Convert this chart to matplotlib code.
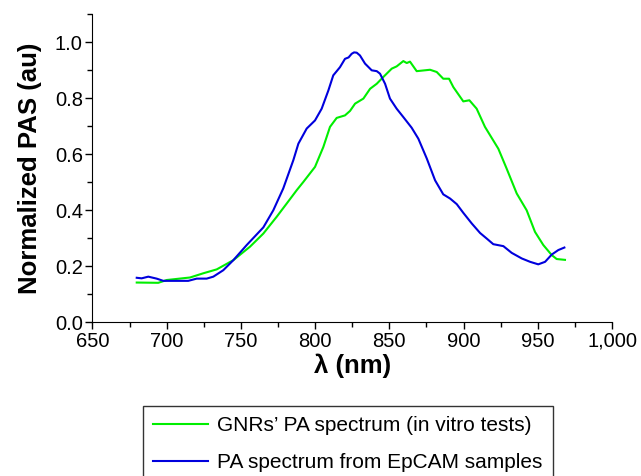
import numpy as np
import matplotlib
matplotlib.use("Agg")
import matplotlib.pyplot as plt
from matplotlib.ticker import MultipleLocator, FuncFormatter

plt.rcParams['font.family'] = ['Liberation Sans', 'DejaVu Sans']

# GNRs' PA spectrum (in vitro tests)
gnr_wl = [679.8, 694.3, 700, 715.7, 724.6, 733.7, 744.9, 756.1, 765.1, 774.1, 780.8,
          787.6, 792, 799.9, 805.5, 810, 814.5, 820.1, 823.5, 826.9, 832.5, 837, 841.5,
          845.9, 851.6, 854.9, 859.4, 861.7, 863.9, 868.4, 877.4, 881.9, 886.3, 890.2,
          893.1, 899.8, 903.9, 908.8, 914.4, 923.4, 929.0, 935.8, 942.5, 948.1, 953.7,
          959.4, 962.7, 968.3]
gnr_pas = [0.141, 0.140, 0.150, 0.159, 0.174, 0.188, 0.221, 0.269, 0.316, 0.376, 0.423,
           0.471, 0.500, 0.554, 0.625, 0.697, 0.729, 0.738, 0.754, 0.780, 0.798, 0.833, 0.851,
           0.875, 0.905, 0.913, 0.932, 0.925, 0.930, 0.896, 0.901, 0.893, 0.869, 0.869,
           0.839, 0.788, 0.792, 0.762, 0.697, 0.619, 0.548, 0.459, 0.399, 0.322, 0.275,
           0.239, 0.225, 0.222]

# PA spectrum from EpCAM samples
ep_wl = [679.8, 683.1, 687.6, 693.2, 697.7, 714.5, 720.2, 726.9, 731.4, 738.1, 744.9,
         753.9, 765.1, 771.8, 778.5, 785.3, 788.7, 794.3, 799.9, 804.4, 808.9, 812.2,
         816.7, 820.1, 822.5, 824.6, 826.2, 828.0, 830.2, 833.6, 838.1, 841.5, 843.7,
         847.1, 850.4, 854.9, 859.4, 865.0, 869.5, 875.2, 880.8, 886.3, 890.9, 895.4,
         899.8, 905.5, 911.1, 915.6, 920, 926.8, 932.4, 939.2, 944.8, 950.3, 954.9,
         959.4, 963.8, 967.9]
ep_pas = [0.158, 0.156, 0.162, 0.155, 0.147, 0.147, 0.155, 0.155, 0.162, 0.185, 0.221,
          0.275, 0.338, 0.399, 0.477, 0.578, 0.637, 0.691, 0.720, 0.762, 0.827, 0.881,
          0.910, 0.940, 0.945, 0.958, 0.963, 0.962, 0.952, 0.923, 0.899, 0.896, 0.887,
          0.851, 0.798, 0.762, 0.732, 0.694, 0.655, 0.584, 0.506, 0.456, 0.441, 0.421,
          0.390, 0.352, 0.318, 0.298, 0.278, 0.271, 0.247, 0.227, 0.215, 0.206, 0.215,
          0.241, 0.257, 0.266]

fig = plt.figure(figsize=(6.41, 4.76), dpi=100)
ax = fig.add_axes([0.1443, 0.3235, 0.8105, 0.647])

ax.plot(gnr_wl, gnr_pas, color='#00ee00', lw=1.5, label="GNRs\u2019 PA spectrum (in vitro tests)")
ax.plot(ep_wl, ep_pas, color='#0000dd', lw=1.5, label="PA spectrum from EpCAM samples")

ax.set_xlim(650, 1000)
ax.set_ylim(0, 1.1)
ax.xaxis.set_major_locator(MultipleLocator(50))
ax.xaxis.set_minor_locator(MultipleLocator(25))
ax.yaxis.set_major_locator(MultipleLocator(0.2))
ax.yaxis.set_minor_locator(MultipleLocator(0.1))
ax.xaxis.set_major_formatter(FuncFormatter(lambda v, p: f"{int(v):,}"))
ax.yaxis.set_major_formatter(FuncFormatter(lambda v, p: f"{v:.1f}"))
ax.spines['top'].set_visible(False)
ax.spines['right'].set_visible(False)
ax.tick_params(which='major', direction='out', length=5, width=1, labelsize=14.5, pad=2)
ax.tick_params(which='minor', direction='out', length=3.5, width=1)

ax.set_xlabel("\u03bb (nm)", fontsize=18.5, fontweight='bold', labelpad=2)
ax.set_ylabel("Normalized PAS (au)", fontsize=18.5, fontweight='bold', labelpad=9)

leg = fig.legend(loc='upper left', bbox_to_anchor=(143 / 641, 1 - 406 / 476),
                 fontsize=15, frameon=True, fancybox=False, edgecolor='black',
                 handlelength=2.6, handletextpad=0.45, borderpad=0.5,
                 labelspacing=0.85, borderaxespad=0)
leg.get_frame().set_linewidth(1)

fig.savefig("out.png", dpi=100)
